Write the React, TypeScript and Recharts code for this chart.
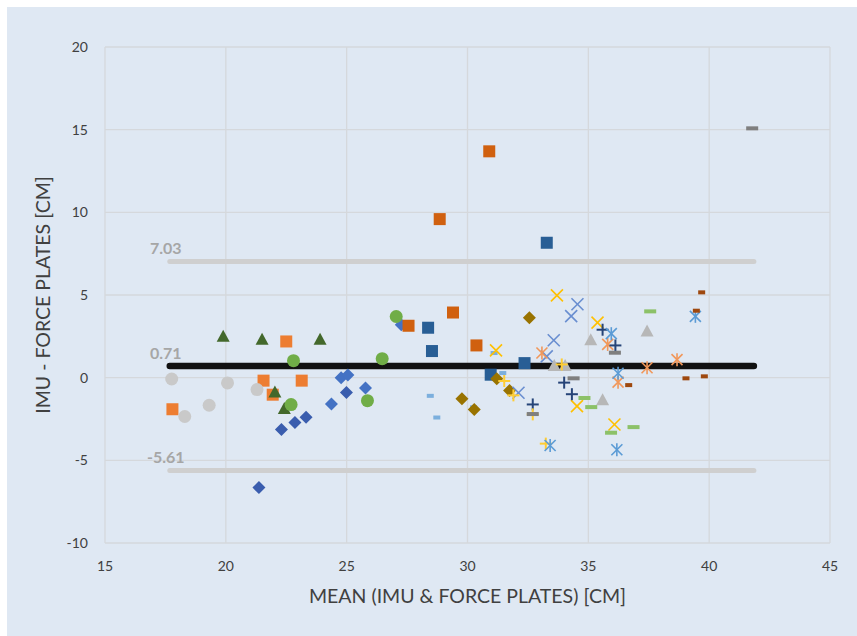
import React from 'react';
import { ScatterChart, Scatter, XAxis, YAxis, CartesianGrid } from 'recharts';

type P = [number, number];

const xTicks = [15, 20, 25, 30, 35, 40, 45];
const yTicks = [-10, -5, 0, 5, 10, 15, 20];

const meanDiff = 0.71;
const upperLoA = 7.03;
const lowerLoA = -5.61;
const lineStartX = 17.68;
const lineEndX = 41.85;

const blueDiamondLight: P[] = [[24.37, -1.59], [24.77, 0.0], [25.05, 0.16], [25.78, -0.62], [27.26, 3.2]];
const blueDiamondDark: P[] = [[21.37, -6.65], [22.3, -3.14], [22.86, -2.71], [23.32, -2.39], [24.99, -0.9]];
const orangeSquare: P[] = [[17.79, -1.91], [21.56, -0.18], [21.94, -1.03], [22.5, 2.19], [23.14, -0.18]];
const grayCircle: P[] = [[17.76, -0.08], [18.3, -2.35], [19.31, -1.67], [20.07, -0.32], [21.29, -0.72]];
const darkGreenTriangle: P[] = [[19.89, 2.5], [21.5, 2.33], [22.03, -0.86], [22.42, -1.87], [23.9, 2.33]];
const greenCircle: P[] = [[22.7, -1.63], [22.8, 1.03], [25.86, -1.39], [26.47, 1.15], [27.05, 3.7]];
const darkOrangeSquare: P[] = [[27.56, 3.14], [28.85, 9.59], [29.4, 3.94], [30.37, 1.95], [30.9, 13.69]];
const darkBlueSquare: P[] = [[28.37, 3.02], [28.53, 1.61], [30.96, 0.18], [32.36, 0.88], [33.28, 8.16]];
const lightBlueDash: P[] = [[28.46, -1.1], [28.73, -2.41], [30.25, -1.79], [31.1, 1.49], [31.46, 0.28]];
const darkGoldDiamond: P[] = [[29.77, -1.27], [30.28, -1.93], [31.21, -0.06], [31.74, -0.77], [32.56, 3.63]];
const goldX: P[] = [[31.18, 1.65], [33.7, 4.98], [34.53, -1.72], [35.38, 3.33], [36.08, -2.83]];
const blueX: P[] = [[32.11, -0.91], [33.28, 1.29], [33.57, 2.26], [34.29, 3.72], [34.55, 4.44]];
const orangeAsterisk: P[] = [[33.08, 1.49], [35.8, 2.01], [36.23, -0.27], [37.43, 0.6], [38.67, 1.09]];
const grayTriangle: P[] = [[33.59, 0.74], [34.04, 0.74], [35.1, 2.3], [35.59, -1.33], [37.43, 2.82]];
const darkBluePlus: P[] = [[32.7, -1.62], [34.0, -0.3], [34.32, -1.0], [35.59, 2.9], [36.12, 1.95]];
const goldPlus: P[] = [[31.52, -0.2], [31.9, -1.07], [32.7, -2.22], [33.24, -3.99], [33.9, 0.8]];
const lightBlueAsterisk: P[] = [[33.42, -4.1], [35.95, 2.66], [36.18, -4.36], [36.23, 0.27], [39.43, 3.71]];
const lightGreenDash: P[] = [[34.84, -1.23], [35.12, -1.78], [35.94, -3.33], [36.87, -2.99], [37.56, 4.01]];
const darkGrayDash: P[] = [[32.7, -2.2], [34.39, -0.04], [36.1, 1.51], [41.78, 15.08]];
const brownDash: P[] = [[36.67, -0.45], [39.04, -0.04], [39.47, 4.05], [39.69, 5.16], [39.8, 0.08]];

const toData = (arr: P[]) => arr.map(([x, y]) => ({ x, y }));

type Kind = 'diamond' | 'square' | 'triangle' | 'circle' | 'x' | 'asterisk' | 'plus' | 'dash' | 'smallDash';

const marker = (kind: Kind, color: string) => (props: any) => {
  const { cx, cy } = props;
  if (cx == null || cy == null) return <g />;
  switch (kind) {
    case 'diamond': {
      const s = 6.5;
      return <polygon points={`${cx},${cy - s} ${cx + s},${cy} ${cx},${cy + s} ${cx - s},${cy}`} fill={color} />;
    }
    case 'square':
      return <rect x={cx - 6} y={cy - 6} width={12} height={12} fill={color} />;
    case 'triangle':
      return <polygon points={`${cx},${cy - 6.5} ${cx + 6.5},${cy + 5.5} ${cx - 6.5},${cy + 5.5}`} fill={color} />;
    case 'circle':
      return <circle cx={cx} cy={cy} r={6.5} fill={color} />;
    case 'x': {
      const s = 6;
      return (
        <g stroke={color} strokeWidth={1.6}>
          <line x1={cx - s} y1={cy - s} x2={cx + s} y2={cy + s} />
          <line x1={cx - s} y1={cy + s} x2={cx + s} y2={cy - s} />
        </g>
      );
    }
    case 'asterisk': {
      const s = 5.5;
      return (
        <g stroke={color} strokeWidth={1.6}>
          <line x1={cx - s} y1={cy - s} x2={cx + s} y2={cy + s} />
          <line x1={cx - s} y1={cy + s} x2={cx + s} y2={cy - s} />
          <line x1={cx} y1={cy - 6.5} x2={cx} y2={cy + 6.5} />
        </g>
      );
    }
    case 'plus': {
      const s = 6;
      return (
        <g stroke={color} strokeWidth={2}>
          <line x1={cx - s} y1={cy} x2={cx + s} y2={cy} />
          <line x1={cx} y1={cy - s} x2={cx} y2={cy + s} />
        </g>
      );
    }
    case 'dash':
      return <rect x={cx - 6} y={cy - 2} width={12} height={4} fill={color} />;
    case 'smallDash':
      return <rect x={cx - 3.5} y={cy - 2} width={7} height={4} fill={color} />;
  }
  return <g />;
};

const series: { name: string; data: P[]; kind: Kind; color: string }[] = [
  { name: 'S1', data: blueDiamondLight, kind: 'diamond', color: '#4472C4' },
  { name: 'S2', data: blueDiamondDark, kind: 'diamond', color: '#3A5DAE' },
  { name: 'S3', data: orangeSquare, kind: 'square', color: '#ED7D31' },
  { name: 'S4', data: grayCircle, kind: 'circle', color: '#C9C9C9' },
  { name: 'S5', data: darkGreenTriangle, kind: 'triangle', color: '#43682B' },
  { name: 'S6', data: greenCircle, kind: 'circle', color: '#70AD47' },
  { name: 'S7', data: darkOrangeSquare, kind: 'square', color: '#D0600F' },
  { name: 'S8', data: darkBlueSquare, kind: 'square', color: '#285E95' },
  { name: 'S9', data: lightBlueDash, kind: 'smallDash', color: '#7CAFDD' },
  { name: 'S10', data: darkGoldDiamond, kind: 'diamond', color: '#997300' },
  { name: 'S11', data: goldX, kind: 'x', color: '#FFC000' },
  { name: 'S12', data: blueX, kind: 'x', color: '#698ED0' },
  { name: 'S13', data: orangeAsterisk, kind: 'asterisk', color: '#F1975A' },
  { name: 'S14', data: grayTriangle, kind: 'triangle', color: '#B7B7B7' },
  { name: 'S15', data: darkBluePlus, kind: 'plus', color: '#264478' },
  { name: 'S16', data: goldPlus, kind: 'plus', color: '#FFCD33' },
  { name: 'S17', data: lightBlueAsterisk, kind: 'asterisk', color: '#5B9BD5' },
  { name: 'S18', data: lightGreenDash, kind: 'dash', color: '#8CC168' },
  { name: 'S19', data: darkGrayDash, kind: 'dash', color: '#7F7F7F' },
  { name: 'S20', data: brownDash, kind: 'smallDash', color: '#9E480E' },
];

const limitLines = [
  { name: 'upper', value: upperLoA, color: '#CFCFCF', width: 5 },
  { name: 'lower', value: lowerLoA, color: '#CFCFCF', width: 5 },
  { name: 'mean', value: meanDiff, color: '#111111', width: 6.5 },
];

const labelData = [upperLoA, meanDiff, lowerLoA].map((v) => ({ x: lineStartX, y: v, text: v.toFixed(2) }));

const font = "Lato, 'Open Sans', sans-serif";

const LabelShape = (props: any) => {
  const { cx, cy, payload } = props;
  return (
    <text x={cx - 4} y={cy - 7} textAnchor="middle" fill="#A6A6A6" fontSize={16} fontWeight="bold" fontFamily={font}>
      {payload.text}
    </text>
  );
};

export default function App() {
  return (
    <div style={{ position: 'absolute', left: 7, top: 7, width: 850, height: 629, background: '#DFE8F3' }}>
      <ScatterChart width={850} height={629} margin={{ top: 40, right: 27, bottom: 0, left: 0 }}>
        <CartesianGrid stroke="#D5D8DC" strokeWidth={1.3} />
        <XAxis
          type="number"
          dataKey="x"
          domain={[15, 45]}
          ticks={xTicks}
          axisLine={false}
          tickLine={false}
          height={93}
          tickMargin={12}
          tick={{ fill: '#404040', fontSize: 14, fontFamily: font }}
          label={{ value: 'MEAN (IMU & FORCE PLATES) [CM]', position: 'insideBottom', offset: 33, fill: '#404040', fontSize: 19.5, fontFamily: font }}
        />
        <YAxis
          type="number"
          dataKey="y"
          domain={[-10, 20]}
          ticks={yTicks}
          axisLine={false}
          tickLine={false}
          width={98}
          tickMargin={11}
          tick={{ fill: '#404040', fontSize: 14, fontFamily: font }}
          label={{ value: 'IMU - FORCE PLATES [CM]', angle: -90, position: 'insideLeft', offset: 36, fill: '#404040', fontSize: 19.5, fontFamily: font, style: { textAnchor: 'middle' } }}
        />
        {limitLines.map((l) => (
          <Scatter
            key={l.name}
            name={l.name}
            data={[{ x: lineStartX, y: l.value }, { x: lineEndX, y: l.value }]}
            line={{ stroke: l.color, strokeWidth: l.width, strokeLinecap: 'round' }}
            shape={() => <g />}
            isAnimationActive={false}
          />
        ))}
        {series.map((s) => (
          <Scatter key={s.name} name={s.name} data={toData(s.data)} shape={marker(s.kind, s.color)} isAnimationActive={false} />
        ))}
        <Scatter name="labels" data={labelData} shape={LabelShape} isAnimationActive={false} />
      </ScatterChart>
    </div>
  );
}
